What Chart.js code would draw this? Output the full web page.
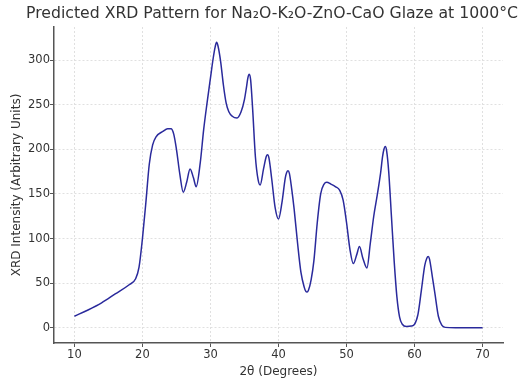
<!DOCTYPE html>
<html>
<head>
<meta charset="utf-8">
<script src="https://cdn.jsdelivr.net/npm/chart.js@4"></script>
<style>
  body { margin: 0; background: #fff; }
  #wrap { width: 532px; height: 385px; }
</style>
</head>
<body>
<div id="wrap"><canvas id="xrdChart" width="532" height="385"></canvas></div>
<script>
// values
const twoTheta = [10, 12, 14, 16, 18, 19, 19.5, 20, 20.5, 21, 21.5, 22, 23, 23.7, 24.2, 24.6, 25, 25.5, 26, 26.5, 27, 27.5, 27.9,
    28.5, 29, 29.5, 30, 30.4, 30.7, 30.9, 31.1, 31.5, 31.9, 32.3, 32.7, 33.2, 33.9, 34.5, 35, 35.3, 35.5, 35.7, 35.9, 36.2,
    36.6, 37, 37.3, 37.8, 38.2, 38.4, 38.6, 39, 39.5, 40, 40.5, 41, 41.2, 41.4, 41.6, 41.9, 42.3, 42.8, 43.3, 43.8, 44, 44.2,
    44.4, 44.8, 45.2, 45.7, 46.2, 46.7, 47.1, 47.7, 48.4, 49, 49.5, 50, 50.5, 51, 51.5, 51.9, 52.4, 53, 53.5, 54, 54.5,
    55, 55.3, 55.5, 55.7, 55.9, 56.2, 56.6, 57, 57.4, 57.8, 58.2, 58.8, 59.5, 60, 60.5, 61, 61.5, 61.8, 62, 62.2, 62.6,
    63, 63.5, 64, 64.5, 66, 68, 70];
const intensity = [13, 20, 28, 38, 48, 55, 68, 100, 140, 183, 205, 214, 220, 223, 223, 217, 200, 172, 152, 163, 178, 168, 158,
    185, 222, 252, 280, 302, 315, 320, 316, 298, 272, 252, 242, 237, 235, 242, 256, 270, 280, 284, 278, 245,
    192, 166, 160, 178, 192, 194, 190, 167, 135, 122, 140, 168, 174, 176, 173, 158, 133, 95, 62, 45, 41, 40,
    42, 54, 75, 118, 150, 161, 163, 161, 158, 154, 143, 118, 88, 72, 82, 91, 78, 67, 95, 125, 148,
    173, 192, 200, 203, 198, 175, 125, 75, 35, 12, 4, 1.5, 2, 4, 15, 42, 70, 78, 80, 77, 58,
    38, 13, 3, 0.5, 0, 0, 0];
const xTicks = [10, 20, 30, 40, 50, 60, 70];
const yTicks = [0, 50, 100, 150, 200, 250, 300];

const titleText = 'Predicted XRD Pattern for Na\u2082O-K\u2082O-ZnO-CaO Glaze at 1000\u00b0C';
const fontFamily = "'DejaVu Sans', sans-serif";

// title drawn a little left of the plot centre, like the original
const titlePlugin = {
    id: 'plotTitle',
    afterDraw(chart) {
        const ctx = chart.ctx;
        ctx.save();
        ctx.font = '15.7px ' + fontFamily;
        ctx.fillStyle = '#333';
        ctx.textAlign = 'center';
        ctx.textBaseline = 'middle';
        ctx.fillText(titleText, 272, 14);
        ctx.restore();
    }
};

const points = twoTheta.map((t, i) => ({ x: t, y: intensity[i] }));

new Chart(document.getElementById('xrdChart').getContext('2d'), {
    type: 'line',
    data: {
        datasets: [{
            data: points,
            borderColor: '#2a2a9c',
            borderWidth: 1.5,
            pointRadius: 0,
            fill: false,
            cubicInterpolationMode: 'monotone'
        }]
    },
    options: {
        responsive: false,
        animation: false,
        layout: { padding: { top: 27, right: 29, left: 0, bottom: 0 } },
        plugins: {
            legend: { display: false },
            tooltip: { enabled: false }
        },
        scales: {
            x: {
                type: 'linear',
                min: 7,
                max: 73,
                afterBuildTicks: (s) => { s.ticks = xTicks.map(v => ({ value: v })); },
                afterFit: (s) => { s.height = 42; },
                grid: { color: '#e0e0e0', tickColor: '#555', tickLength: 4, tickWidth: 1 },
                border: { color: '#555', width: 1.5, dash: [2, 2] },
                ticks: { color: '#333', padding: 1, font: { family: fontFamily, size: 11.5 } },
                title: {
                    display: true,
                    text: '2\u03b8 (Degrees)',
                    color: '#333',
                    padding: { top: 0, bottom: 6 },
                    font: { family: fontFamily, size: 12 }
                }
            },
            y: {
                min: -17,
                max: 337,
                afterBuildTicks: (s) => { s.ticks = yTicks.map(v => ({ value: v })); },
                afterFit: (s) => { s.width = 54; },
                grid: { color: '#e0e0e0', tickColor: '#555', tickLength: 4, tickWidth: 1 },
                border: { color: '#555', width: 1.5, dash: [2, 2] },
                ticks: { color: '#333', padding: 0, font: { family: fontFamily, size: 11.5 } },
                title: {
                    display: true,
                    text: 'XRD Intensity (Arbitrary Units)',
                    color: '#333',
                    padding: { top: 10, bottom: 0 },
                    font: { family: fontFamily, size: 12 }
                }
            }
        }
    },
    plugins: [titlePlugin]
});
</script>
</body>
</html>
